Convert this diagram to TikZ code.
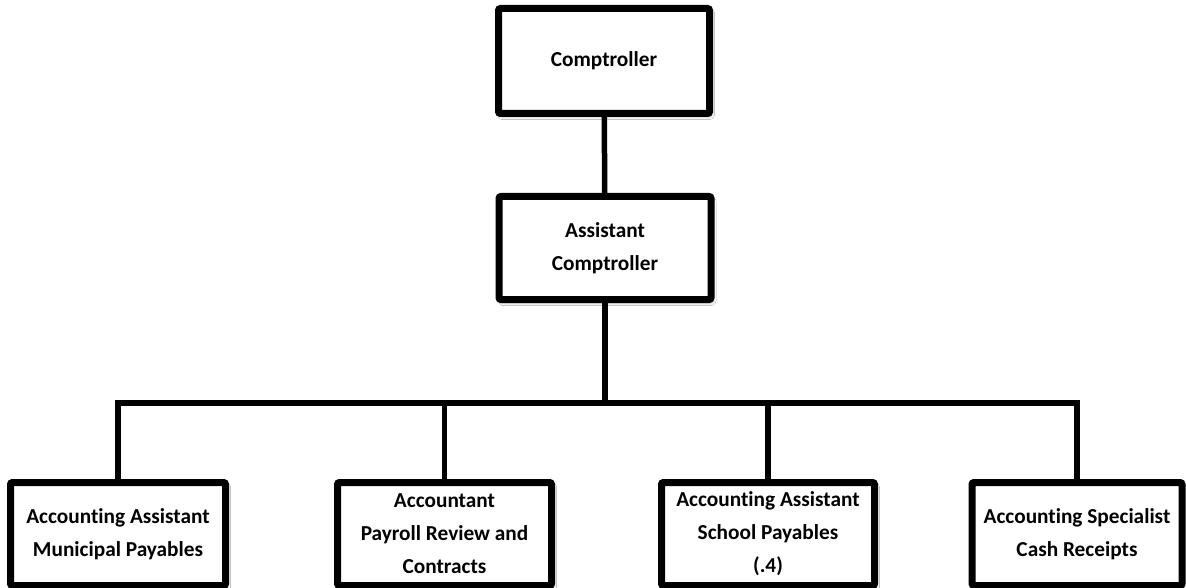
\documentclass[tikz,border=0pt]{standalone}
\usepackage{fontspec}
\setmainfont[Ligatures={NoCommon}]{Carlito}
\usetikzlibrary{shadows.blur}
\begin{document}
\begin{tikzpicture}[x=1pt,y=-1pt,
  orgbox/.style={draw=black, line width=7pt, fill=white, rounded corners=2pt,
    align=center, inner sep=0pt,
    font=\bfseries\fontsize{21.3}{33}\selectfont,
    blur shadow={shadow xshift=2pt, shadow yshift=-3pt, shadow blur radius=3pt, shadow opacity=35}},
  link/.style={draw=black, line width=5.5pt}]
\useasboundingbox[fill=white] (0,0) rectangle (1186,588);
\node[orgbox, minimum width=211pt, minimum height=105pt] (top) at (604,61) {Comptroller};
\node[orgbox, minimum width=212pt, minimum height=103pt] (asst) at (605,248) {Assistant\\Comptroller};
\node[orgbox, minimum width=215pt, minimum height=103pt] (b1) at (118,534) {Accounting Assistant\\Municipal Payables};
\node[orgbox, minimum width=214pt, minimum height=103pt] (b2) at (444.5,534) {Accountant\\Payroll Review and\\Contracts};
\node[orgbox, minimum width=213pt, minimum height=103pt] (b3) at (768,534) {Accounting Assistant\\School Payables\\(.4)};
\node[orgbox, minimum width=210pt, minimum height=103pt] (b4) at (1077,534) {Accounting Specialist\\Cash Receipts};
\coordinate (bus) at (605,403);
\draw[link] (top) -- (asst);
\draw[link] (asst.south) -- (bus);
\draw[link] (bus) -| (b1.north);
\draw[link] (bus) -| (b2.north);
\draw[link] (bus) -| (b3.north);
\draw[link] (bus) -| (b4.north);
\end{tikzpicture}
\end{document}
